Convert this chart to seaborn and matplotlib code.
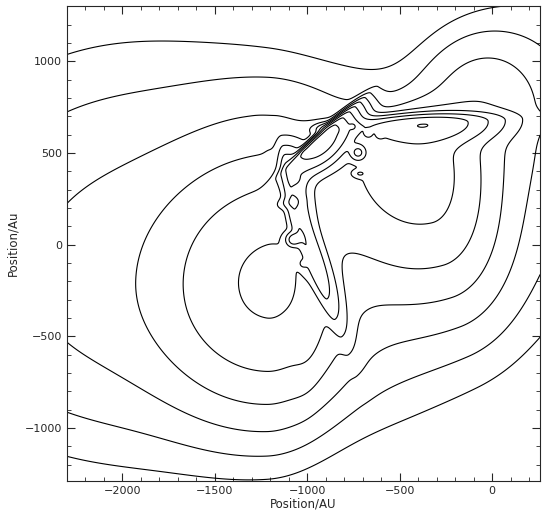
import numpy as np
import matplotlib
matplotlib.use("Agg")
import matplotlib.pyplot as plt
import seaborn as sns

# map extent in AU
x_lim = [-2300, 260]
y_lim = [-1290, 1300]

# emission components (centre, one-sided widths, tilt, peak)
# widths: sw/se along the tilt axis (back/forward), ss/sn across it (right/left side)
comp_x   = [-1900, -100, -1220, -1150, -420, -800, -940, -380, -1090, -975, -990,
            -725, -1076, -752, -670, -606, -714, -1022, -1065, -1011, -1095, -870, -50,
            -950]
comp_y   = [ -200,  300,  -300,  -150,  470, -350,  565,  655,   330,  -80, -500,
             502,    27,  644,  606,  600,  387,  -104,   360,   497,   229,  630, 780,
             720]
comp_sw  = [  700,  700,   320,   300,  330,  300,  120,  220,   100,  200,  180,
              26,    24,   12,   12,   12,   22,    15,    15,    15,    20,   45, 200,
             400]
comp_se  = [  700,  700,   200,   320,  200,  300,  120,  200,   200,  200,  180,
              26,    24,   12,   12,   12,   22,    15,    15,    15,    20,   45, 200,
             400]
comp_ss  = [  540,  500,   360,   330,  380,  350,   70,   60,    25,   25,   50,
              26,    24,   12,   12,   12,   12,    15,    15,    15,    40,   18, 300,
             200]
comp_sn  = [  700,  350,   440,   200,  120,  300,   15,   30,    60,   45,   50,
              26,    24,   12,   12,   12,   12,    15,    15,    15,    40,   18, 220,
             200]
comp_ang = [    0,   60,     0,   -80,   15,    0,  42.6,   3,   -80,  -69,  -95,
               0,     0,    0,    0,    0,    0,     0,     0,     0,   -80,    0,   0,
               0]
comp_amp = [  5.6,  3.2,    17,    16,   45,  1.5,  400,  110,    90,   90,    3,
             130,   150,   60,   60,   60,   40,    50,    60,    60,    40,   40, 4.5,
             1.2]

levels = [1, 2, 4, 8, 16, 32, 64, 128, 256, 512]

x_ticks = [-2000, -1500, -1000, -500, 0]
y_ticks = [-1000, -500, 0, 500, 1000]

gx = np.linspace(x_lim[0], x_lim[1], 700)
gy = np.linspace(y_lim[0], y_lim[1], 700)
X, Y = np.meshgrid(gx, gy)
Z = np.zeros_like(X)
for x0, y0, sw, se, ss, sn, ang, amp in zip(comp_x, comp_y, comp_sw, comp_se,
                                             comp_ss, comp_sn, comp_ang, comp_amp):
    t = np.deg2rad(ang)
    dx, dy = X - x0, Y - y0
    u = dx * np.cos(t) + dy * np.sin(t)
    v = -dx * np.sin(t) + dy * np.cos(t)
    su = np.where(u < 0, sw, se)
    sv = np.where(v < 0, ss, sn)
    Z += amp * np.exp(-0.5 * ((u / su) ** 2 + (v / sv) ** 2))

sns.set_style("ticks")
plt.rcParams["font.family"] = ["DejaVu Sans"]

fig = plt.figure(figsize=(5.42, 5.19), dpi=100)
ax = fig.add_axes([0.1236, 0.073, 0.873, 0.915])
ax.contour(X, Y, Z, levels=levels, colors="black", linewidths=0.8)

ax.set_xlim(x_lim)
ax.set_ylim(y_lim)
ax.set_xticks(x_ticks)
ax.set_yticks(y_ticks)
ax.set_xticks(np.arange(-2300, 261, 100), minor=True)
ax.set_yticks(np.arange(-1200, 1301, 100), minor=True)
ax.tick_params(which="both", direction="in", top=True, right=True, labelsize=8)
ax.tick_params(which="major", length=6, width=0.8)
ax.tick_params(which="minor", length=3, width=0.6)
for s in ax.spines.values():
    s.set_linewidth(0.8)
ax.set_xlabel("Position/AU", fontsize=8.5, labelpad=1)
ax.set_ylabel("Position/Au", fontsize=8.5, labelpad=4)

fig.savefig("out.png", dpi=100)
